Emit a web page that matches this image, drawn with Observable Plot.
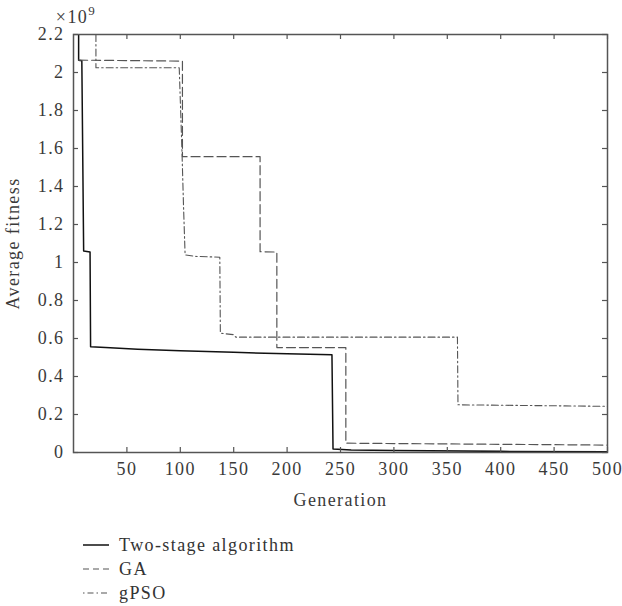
<!DOCTYPE html>
<html>
<head>
<meta charset="utf-8">
<script src="https://cdn.jsdelivr.net/npm/d3@7"></script>
<script src="https://cdn.jsdelivr.net/npm/@observablehq/plot@0.6"></script>
<style>
  body { margin: 0; background: #fff; font-family: "Liberation Serif", "DejaVu Serif", serif; }
  #legend { margin-top: 23px; }
  .row { display: flex; align-items: center; height: 24px; padding-left: 83px; font-size: 18px; letter-spacing: 1.4px; color: #333; }
  .row svg { margin-right: 10px; flex: none; }
</style>
</head>
<body>
<div id="chart"></div>
<div id="legend"></div>
<script>
// Two-stage algorithm (solid)
const twoStageGen = [4.8, 4.8, 7.8, 9.5, 15.5, 16, 30, 60, 100, 150, 200, 242, 243, 260, 300, 400, 500];
const twoStageFit = [2.2, 2.065, 2.062, 1.06, 1.055, 0.556, 0.552, 0.543, 0.535, 0.527, 0.52, 0.514, 0.018, 0.013, 0.01, 0.006, 0.004];
// GA (dashed)
const gaGen = [4.8, 102, 102, 174.7, 174.7, 190.4, 190.4, 255, 255, 500];
const gaFit = [2.065, 2.06, 1.557, 1.557, 1.057, 1.055, 0.552, 0.552, 0.049, 0.039];
// gPSO (dash-dot)
const gpsoGen = [21, 21, 99, 101.5, 103, 104.5, 115, 137, 137.5, 150, 152, 359.5, 360, 500];
const gpsoFit = [2.2, 2.025, 2.025, 1.6, 1.3, 1.04, 1.032, 1.028, 0.628, 0.62, 0.607, 0.607, 0.251, 0.243];

const seriesNames = ["Two-stage algorithm", "GA", "gPSO"];
const xTicks = [50, 100, 150, 200, 250, 300, 350, 400, 450, 500];
const yTicks = [0, 0.2, 0.4, 0.6, 0.8, 1, 1.2, 1.4, 1.6, 1.8, 2, 2.2];

const styles = [
  {stroke: "#111", strokeWidth: 1.5, dash: null, legendDash: null},
  {stroke: "#555", strokeWidth: 1.2, dash: "9,4", legendDash: "6,4"},
  {stroke: "#555", strokeWidth: 1.1, dash: "7,3,1.5,3", legendDash: "1.5,3,6,3"}
];

const toRows = (g, f) => g.map((x, i) => ({x, y: f[i]}));
const series = [toRows(twoStageGen, twoStageFit), toRows(gaGen, gaFit), toRows(gpsoGen, gpsoFit)];

const W = 622, H = 510, mT = 34, mB = 58, mL = 73, mR = 15;
const ph = H - mT - mB, pw = W - mL - mR;
const axisColor = "#555", textColor = "#3a3a3a";

const chart = Plot.plot({
  width: W, height: H,
  marginTop: mT, marginBottom: mB, marginLeft: mL, marginRight: mR,
  style: {fontFamily: "'Liberation Serif', 'DejaVu Serif', serif", fontSize: "18px", letterSpacing: "1.4px", color: textColor, background: "#fff"},
  x: {domain: [0, 500]},
  y: {domain: [0, 2.2]},
  marks: [
    ...series.map((d, i) => Plot.line(d, {x: "x", y: "y", stroke: styles[i].stroke, strokeWidth: styles[i].strokeWidth, strokeDasharray: styles[i].dash, clip: true})),
    // inward ticks on all four sides
    Plot.tickX(xTicks, {x: d => d, insetTop: ph - 5, stroke: axisColor, strokeWidth: 1.2}),
    Plot.tickX(xTicks, {x: d => d, insetBottom: ph - 5, stroke: axisColor, strokeWidth: 1.2}),
    Plot.tickY(yTicks, {y: d => d, insetRight: pw - 5, stroke: axisColor, strokeWidth: 1.2}),
    Plot.tickY(yTicks, {y: d => d, insetLeft: pw - 5, stroke: axisColor, strokeWidth: 1.2}),
    Plot.frame({stroke: axisColor, strokeWidth: 1.5}),
    Plot.axisX(xTicks, {tickSize: 0, tickPadding: 10, label: "Generation", labelAnchor: "center", labelArrow: "none", labelOffset: 53, fill: textColor}),
    Plot.axisY(yTicks, {tickSize: 0, tickPadding: 9, tickFormat: d => String(d), label: "Average fitness", labelAnchor: "center", labelArrow: "none", labelOffset: 67, fill: textColor})
  ]
});
document.getElementById("chart").appendChild(chart);

// ×10^9 exponent label
const svg = d3.select(chart);
const t = svg.append("text")
  .attr("x", 76).attr("y", 23)
  .attr("fill", textColor)
  .text("×10");
t.append("tspan").attr("dy", -8).attr("font-size", "13px").text("9");

// Legend
const legend = d3.select("#legend");
seriesNames.forEach((name, i) => {
  const row = legend.append("div").attr("class", "row");
  const s = row.append("svg").attr("width", 26).attr("height", 10);
  s.append("line").attr("x1", 0).attr("x2", 26).attr("y1", 5).attr("y2", 5)
    .attr("stroke", styles[i].stroke).attr("stroke-width", styles[i].strokeWidth)
    .attr("stroke-dasharray", styles[i].legendDash);
  row.append("span").text(name);
});
</script>
</body>
</html>
